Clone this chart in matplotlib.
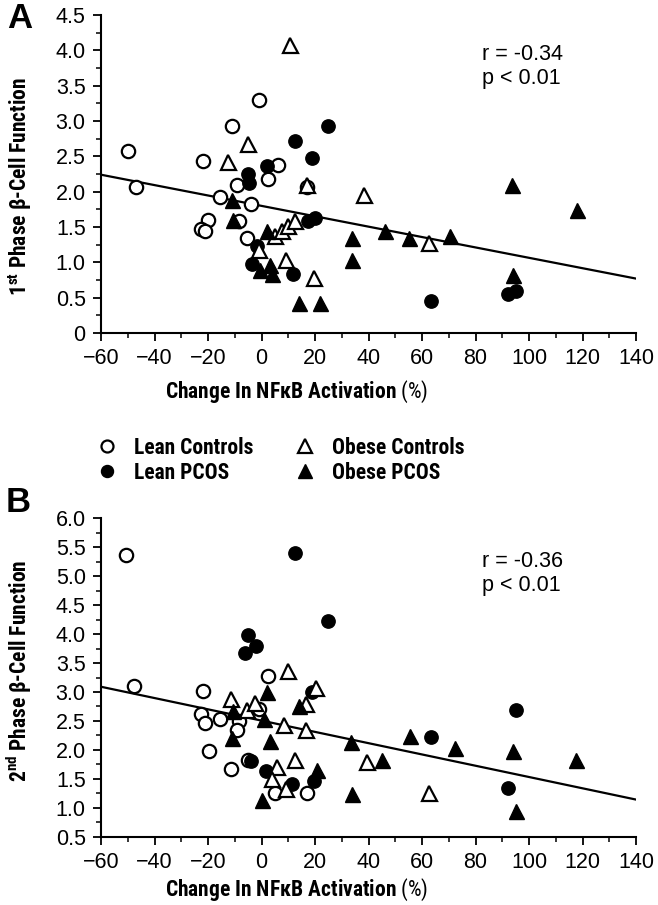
import matplotlib
matplotlib.use("Agg")
import matplotlib.pyplot as plt
from matplotlib import font_manager
from matplotlib.lines import Line2D

#%% data (x = change in NFkB activation %, y = beta-cell function)

# panel A, 1st phase
lean_ctrl_x1 = [-50, -47, -22, -11, -1, 6, 2.5, -9, 17, -15.5, -4, -20, -22.5, -21, -8.5, -5.5]
lean_ctrl_y1 = [2.58, 2.07, 2.43, 2.93, 3.3, 2.38, 2.18, 2.1, 2.06, 1.93, 1.82, 1.6, 1.47, 1.45, 1.59, 1.35]
lean_pcos_x1 = [25, 12.5, 19, 2, -5, -4.5, 17.5, 20, -1.8, -3.7, 11.7, 63.5, 92, 95]
lean_pcos_y1 = [2.93, 2.72, 2.48, 2.37, 2.25, 2.12, 1.59, 1.63, 1.23, 0.97, 0.83, 0.45, 0.55, 0.6]
obese_ctrl_x1 = [10.5, -5, -12.5, 17, 38.5, 5, 7.6, 10, 12.5, 9, 19.5, -1, 62.5]
obese_ctrl_y1 = [4.07, 2.68, 2.42, 2.1, 1.95, 1.37, 1.44, 1.51, 1.58, 1.03, 0.78, 1.18, 1.28]
obese_pcos_x1 = [-11, -10.5, 2, -0.6, 3.2, 3.8, 14, 22, 34, 34, 46, 55, 70.5, 93.5, 118, 94]
obese_pcos_y1 = [1.88, 1.6, 1.45, 0.89, 0.96, 0.84, 0.42, 0.43, 1.34, 1.03, 1.45, 1.35, 1.37, 2.1, 1.74, 0.82]
fit_x1 = [-60, 140]
fit_y1 = [2.24, 0.77]

# panel B, 2nd phase
lean_ctrl_x2 = [-50.5, -47.5, -22, 2.5, -22.5, -21, -15.5, -8.5, -9, -19.5, -11.5, -1, -5, 5, 17]
lean_ctrl_y2 = [5.36, 3.1, 3.02, 3.28, 2.62, 2.46, 2.53, 2.5, 2.34, 1.98, 1.66, 2.71, 1.82, 1.25, 1.26]
lean_pcos_x2 = [12.5, 25, -5, -2, -6, 19, -4, 1.5, 11.5, 19.5, 95, 63.5, 92]
lean_pcos_y2 = [5.41, 4.22, 3.99, 3.79, 3.68, 3.0, 1.8, 1.64, 1.41, 1.46, 2.69, 2.23, 1.34]
obese_ctrl_x2 = [10, 20.5, -11.5, 16.5, -5.5, -2.5, 8.5, 16.5, 12.5, 5.7, 3.8, 9.2, 39.5, 62.5]
obese_ctrl_y2 = [3.36, 3.06, 2.88, 2.79, 2.69, 2.81, 2.43, 2.34, 1.82, 1.70, 1.5, 1.33, 1.79, 1.26]
obese_pcos_x2 = [2.2, 14, -10.5, 0.8, -11, 3.3, 0, 20.6, 33.5, 34, 55.5, 72.5, 94, 117.5, 45, 95]
obese_pcos_y2 = [3.0, 2.75, 2.67, 2.54, 2.2, 2.16, 1.13, 1.65, 2.14, 1.24, 2.24, 2.04, 1.98, 1.83, 1.83, 0.95]
fit_x2 = [-60, 140]
fit_y2 = [3.09, 1.14]

group_labels = ["Lean Controls", "Lean PCOS", "Obese Controls", "Obese PCOS"]
x_ticks = [-60, -40, -20, 0, 20, 40, 60, 80, 100, 120, 140]
y_ticks1 = [0, 0.5, 1.0, 1.5, 2.0, 2.5, 3.0, 3.5, 4.0, 4.5]
y_ticklabels1 = ["0", "0.5", "1.0", "1.5", "2.0", "2.5", "3.0", "3.5", "4.0", "4.5"]
y_ticks2 = [0.5, 1.0, 1.5, 2.0, 2.5, 3.0, 3.5, 4.0, 4.5, 5.0, 5.5, 6.0]
y_ticklabels2 = ["0.5", "1.0", "1.5", "2.0", "2.5", "3.0", "3.5", "4.0", "4.5", "5.0", "5.5", "6.0"]

#%% fonts - a narrow bold face is used for the labels if one is installed

names = {f.name for f in font_manager.fontManager.ttflist}
narrow = None
for cand in ["Liberation Sans Narrow", "Arial Narrow", "Roboto Condensed", "Open Sans Condensed"]:
    if cand in names:
        narrow = cand
        break

if narrow is None:
    narrow = "Liberation Sans"
    FS_LAB = 12.8   # regular width face, shrink to the same text extent
else:
    FS_LAB = 15.5

plt.rcParams["font.family"] = ["Liberation Sans", "DejaVu Sans"]
plt.rcParams["mathtext.fontset"] = "custom"
plt.rcParams["mathtext.rm"] = narrow
plt.rcParams["mathtext.bf"] = narrow + ":bold"

FS = 15.5

styles = [
    dict(marker="o", ms=9.6, mfc="white", mec="black", mew=1.6),
    dict(marker="o", ms=9.6, mfc="black", mec="black", mew=1.0),
    dict(marker="^", ms=10.8, mfc="white", mec="black", mew=1.6),
    dict(marker="^", ms=10.8, mfc="black", mec="black", mew=1.0),
]

#%% panel helper

def panel(ax, series, fit_x, fit_y, ylim, yticks, yticklabels, ylabel, ylabel_y, xlabel_y, stats, stats_y):

    ax.plot(fit_x, fit_y, color="black", lw=1.6, zorder=1)
    order = [3, 0, 2, 1]  # draw order of the groups
    for k in order:
        x, y = series[k]
        ax.plot(x, y, ls="none", zorder=2 + k, **styles[k])

    ax.set_xlim(-60, 140)
    ax.set_ylim(*ylim)
    ax.set_xticks(x_ticks)
    ax.set_xticks(range(-50, 140, 20), minor=True)
    ax.set_yticks(yticks)
    ax.set_yticklabels(yticklabels)
    ax.set_yticks([t + 0.25 for t in yticks[:-1]], minor=True)

    for side in ["top", "right"]:
        ax.spines[side].set_visible(False)
    for side in ["left", "bottom"]:
        ax.spines[side].set_linewidth(1.5)

    ax.tick_params(which="major", direction="out", length=6, width=1.3, labelsize=FS, pad=5)
    ax.tick_params(which="minor", direction="out", length=3.5, width=1.1)

    ax.set_ylabel(ylabel, fontsize=FS_LAB, fontweight="bold", family=narrow)
    ax.yaxis.set_label_coords(-0.125, ylabel_y)
    ax.set_xlabel(r"Change In NFκB Activation $\mathrm{(\%)}$", fontsize=FS_LAB, fontweight="bold", family=narrow)
    ax.xaxis.set_label_coords(0.365, xlabel_y)

    ax.text(0.713, stats_y, stats, transform=ax.transAxes, fontsize=FS, ha="left", va="center", linespacing=1.2)


fig = plt.figure(figsize=(6.58, 9.05), dpi=100)
ax1 = fig.add_axes([101 / 658, 1 - 333 / 905, 535 / 658, 318 / 905])
ax2 = fig.add_axes([101 / 658, 1 - 836.6 / 905, 535 / 658, 318.2 / 905])

series1 = [(lean_ctrl_x1, lean_ctrl_y1), (lean_pcos_x1, lean_pcos_y1),
           (obese_ctrl_x1, obese_ctrl_y1), (obese_pcos_x1, obese_pcos_y1)]
series2 = [(lean_ctrl_x2, lean_ctrl_y2), (lean_pcos_x2, lean_pcos_y2),
           (obese_ctrl_x2, obese_ctrl_y2), (obese_pcos_x2, obese_pcos_y2)]

panel(ax1, series1, fit_x1, fit_y1, (0, 4.5), y_ticks1, y_ticklabels1,
      r"1$^{\mathbf{st}}$ Phase β-Cell Function", 0.46, -0.145, "r = -0.34\np < 0.01", 0.838)
panel(ax2, series2, fit_x2, fit_y2, (0.5, 6.0), y_ticks2, y_ticklabels2,
      r"2$^{\mathbf{nd}}$ Phase β-Cell Function", 0.52, -0.127, "r = -0.36\np < 0.01", 0.828)

# panel letters
fig.text(7 / 658, 1 - 18 / 905, "A", fontsize=25, fontweight="bold", ha="left", va="center")
fig.text(6 / 658, 1 - 502 / 905, "B", fontsize=25, fontweight="bold", ha="left", va="center")

#%% legend between the panels

handles = [Line2D([], [], ls="none", **dict(styles[k], ms=styles[k]["ms"] * 0.9)) for k in range(4)]
fig.legend(handles, group_labels, ncol=2, loc="upper left", bbox_to_anchor=(96 / 658, 1 - 437 / 905),
           frameon=False, prop=dict(family=narrow, weight="bold", size=FS_LAB),
           handlelength=1.0, handletextpad=0.75, columnspacing=1.9, labelspacing=0.12,
           borderpad=0, borderaxespad=0)

fig.savefig("out.png", dpi=100)
